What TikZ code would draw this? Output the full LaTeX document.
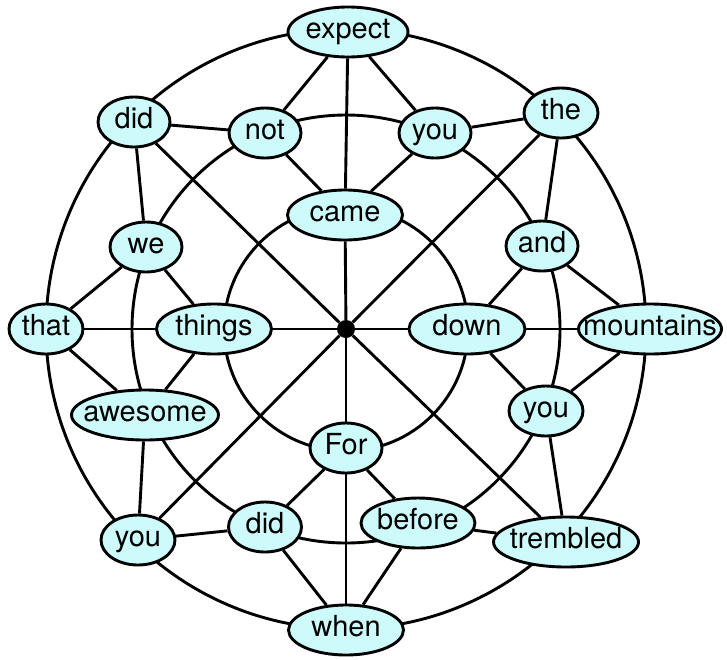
\documentclass[tikz,border=0pt]{standalone}
\usepackage{fontspec}
\setmainfont{TeX Gyre Heros}
\usetikzlibrary{shapes.geometric}
\pgfdeclarelayer{bg}
\pgfsetlayers{bg,main}
\definecolor{nodefill}{RGB}{205,250,250}
\tikzset{
  wnode/.style={ellipse, draw=black, line width=2.9pt, fill=nodefill, inner sep=0pt,
    minimum height=50pt, minimum width=#1, font=\fontsize{29}{30}\selectfont},
  edge/.style={line width=2.9pt, draw=black},
  hubdot/.style={circle, fill=black, inner sep=0pt, minimum size=18pt}
}
\newcommand{\wt}[1]{\makebox[0pt]{\strut #1}}
\begin{document}
\begin{tikzpicture}[x=1pt,y=-1pt]
\useasboundingbox (0,0) rectangle (727,659);
\node[hubdot] (hub) at (346,329) {};
% outer
\node[wnode=120pt] (expect) at (348,32) {\wt{expect}};
\node[wnode=74pt] (the) at (561,113) {\wt{the}};
\node[wnode=143pt] (mountains) at (650,329) {\wt{mountains}};
\node[wnode=145pt] (trembled) at (566,542) {\wt{trembled}};
\node[wnode=115pt] (when) at (346,630) {\wt{when}};
\node[wnode=74pt] (youbl) at (138,540) {\wt{you}};
\node[wnode=74pt] (that) at (46,329) {\wt{that}};
\node[wnode=72pt] (didtl) at (134,122) {\wt{did}};
% middle
\node[wnode=72pt] (not) at (265,133) {\wt{not}};
\node[wnode=72pt] (yout) at (435,133) {\wt{you}};
\node[wnode=72pt] (and) at (542,246) {\wt{and}};
\node[wnode=74pt] (your) at (546,411) {\wt{you}};
\node[wnode=114pt] (before) at (418,523) {\wt{before}};
\node[wnode=73pt] (didb) at (265,527) {\wt{did}};
\node[wnode=147pt] (awesome) at (145,415) {\wt{awesome}};
\node[wnode=72pt] (we) at (146,247) {\wt{we}};
% inner
\node[wnode=115pt] (came) at (345,215) {\wt{came}};
\node[wnode=116pt] (down) at (467,329) {\wt{down}};
\node[wnode=72pt] (For) at (346,448) {\wt{For}};
\node[wnode=115pt] (things) at (214,329) {\wt{things}};
\begin{pgfonlayer}{bg}
\draw[edge] (hub.center) circle[radius=300pt];
\draw[edge] (hub.center) circle[radius=214pt];
\draw[edge] (hub.center) circle[radius=122pt];
% spokes
\draw[edge] (expect) -- (came);
\draw[edge] (came) -- (hub);
\draw[edge] (hub) -- (For);
\draw[edge] (For) -- (when);
\draw[edge] (that) -- (things);
\draw[edge] (things) -- (hub);
\draw[edge] (hub) -- (down);
\draw[edge] (down) -- (mountains);
\draw[edge] (didtl) -- (hub);
\draw[edge] (hub) -- (trembled);
\draw[edge] (the) -- (hub);
\draw[edge] (hub) -- (youbl);
% outer to middle
\draw[edge] (expect) -- (not);
\draw[edge] (expect) -- (yout);
\draw[edge] (didtl) -- (not);
\draw[edge] (didtl) -- (we);
\draw[edge] (the) -- (yout);
\draw[edge] (the) -- (and);
\draw[edge] (mountains) -- (and);
\draw[edge] (mountains) -- (your);
\draw[edge] (trembled) -- (your);
\draw[edge] (trembled) -- (before);
\draw[edge] (when) -- (before);
\draw[edge] (when) -- (didb);
\draw[edge] (youbl) -- (didb);
\draw[edge] (youbl) -- (awesome);
\draw[edge] (that) -- (awesome);
\draw[edge] (that) -- (we);
% middle to inner
\draw[edge] (not) -- (came);
\draw[edge] (yout) -- (came);
\draw[edge] (and) -- (down);
\draw[edge] (your) -- (down);
\draw[edge] (before) -- (For);
\draw[edge] (didb) -- (For);
\draw[edge] (awesome) -- (things);
\draw[edge] (we) -- (things);
\end{pgfonlayer}
\end{tikzpicture}
\end{document}
